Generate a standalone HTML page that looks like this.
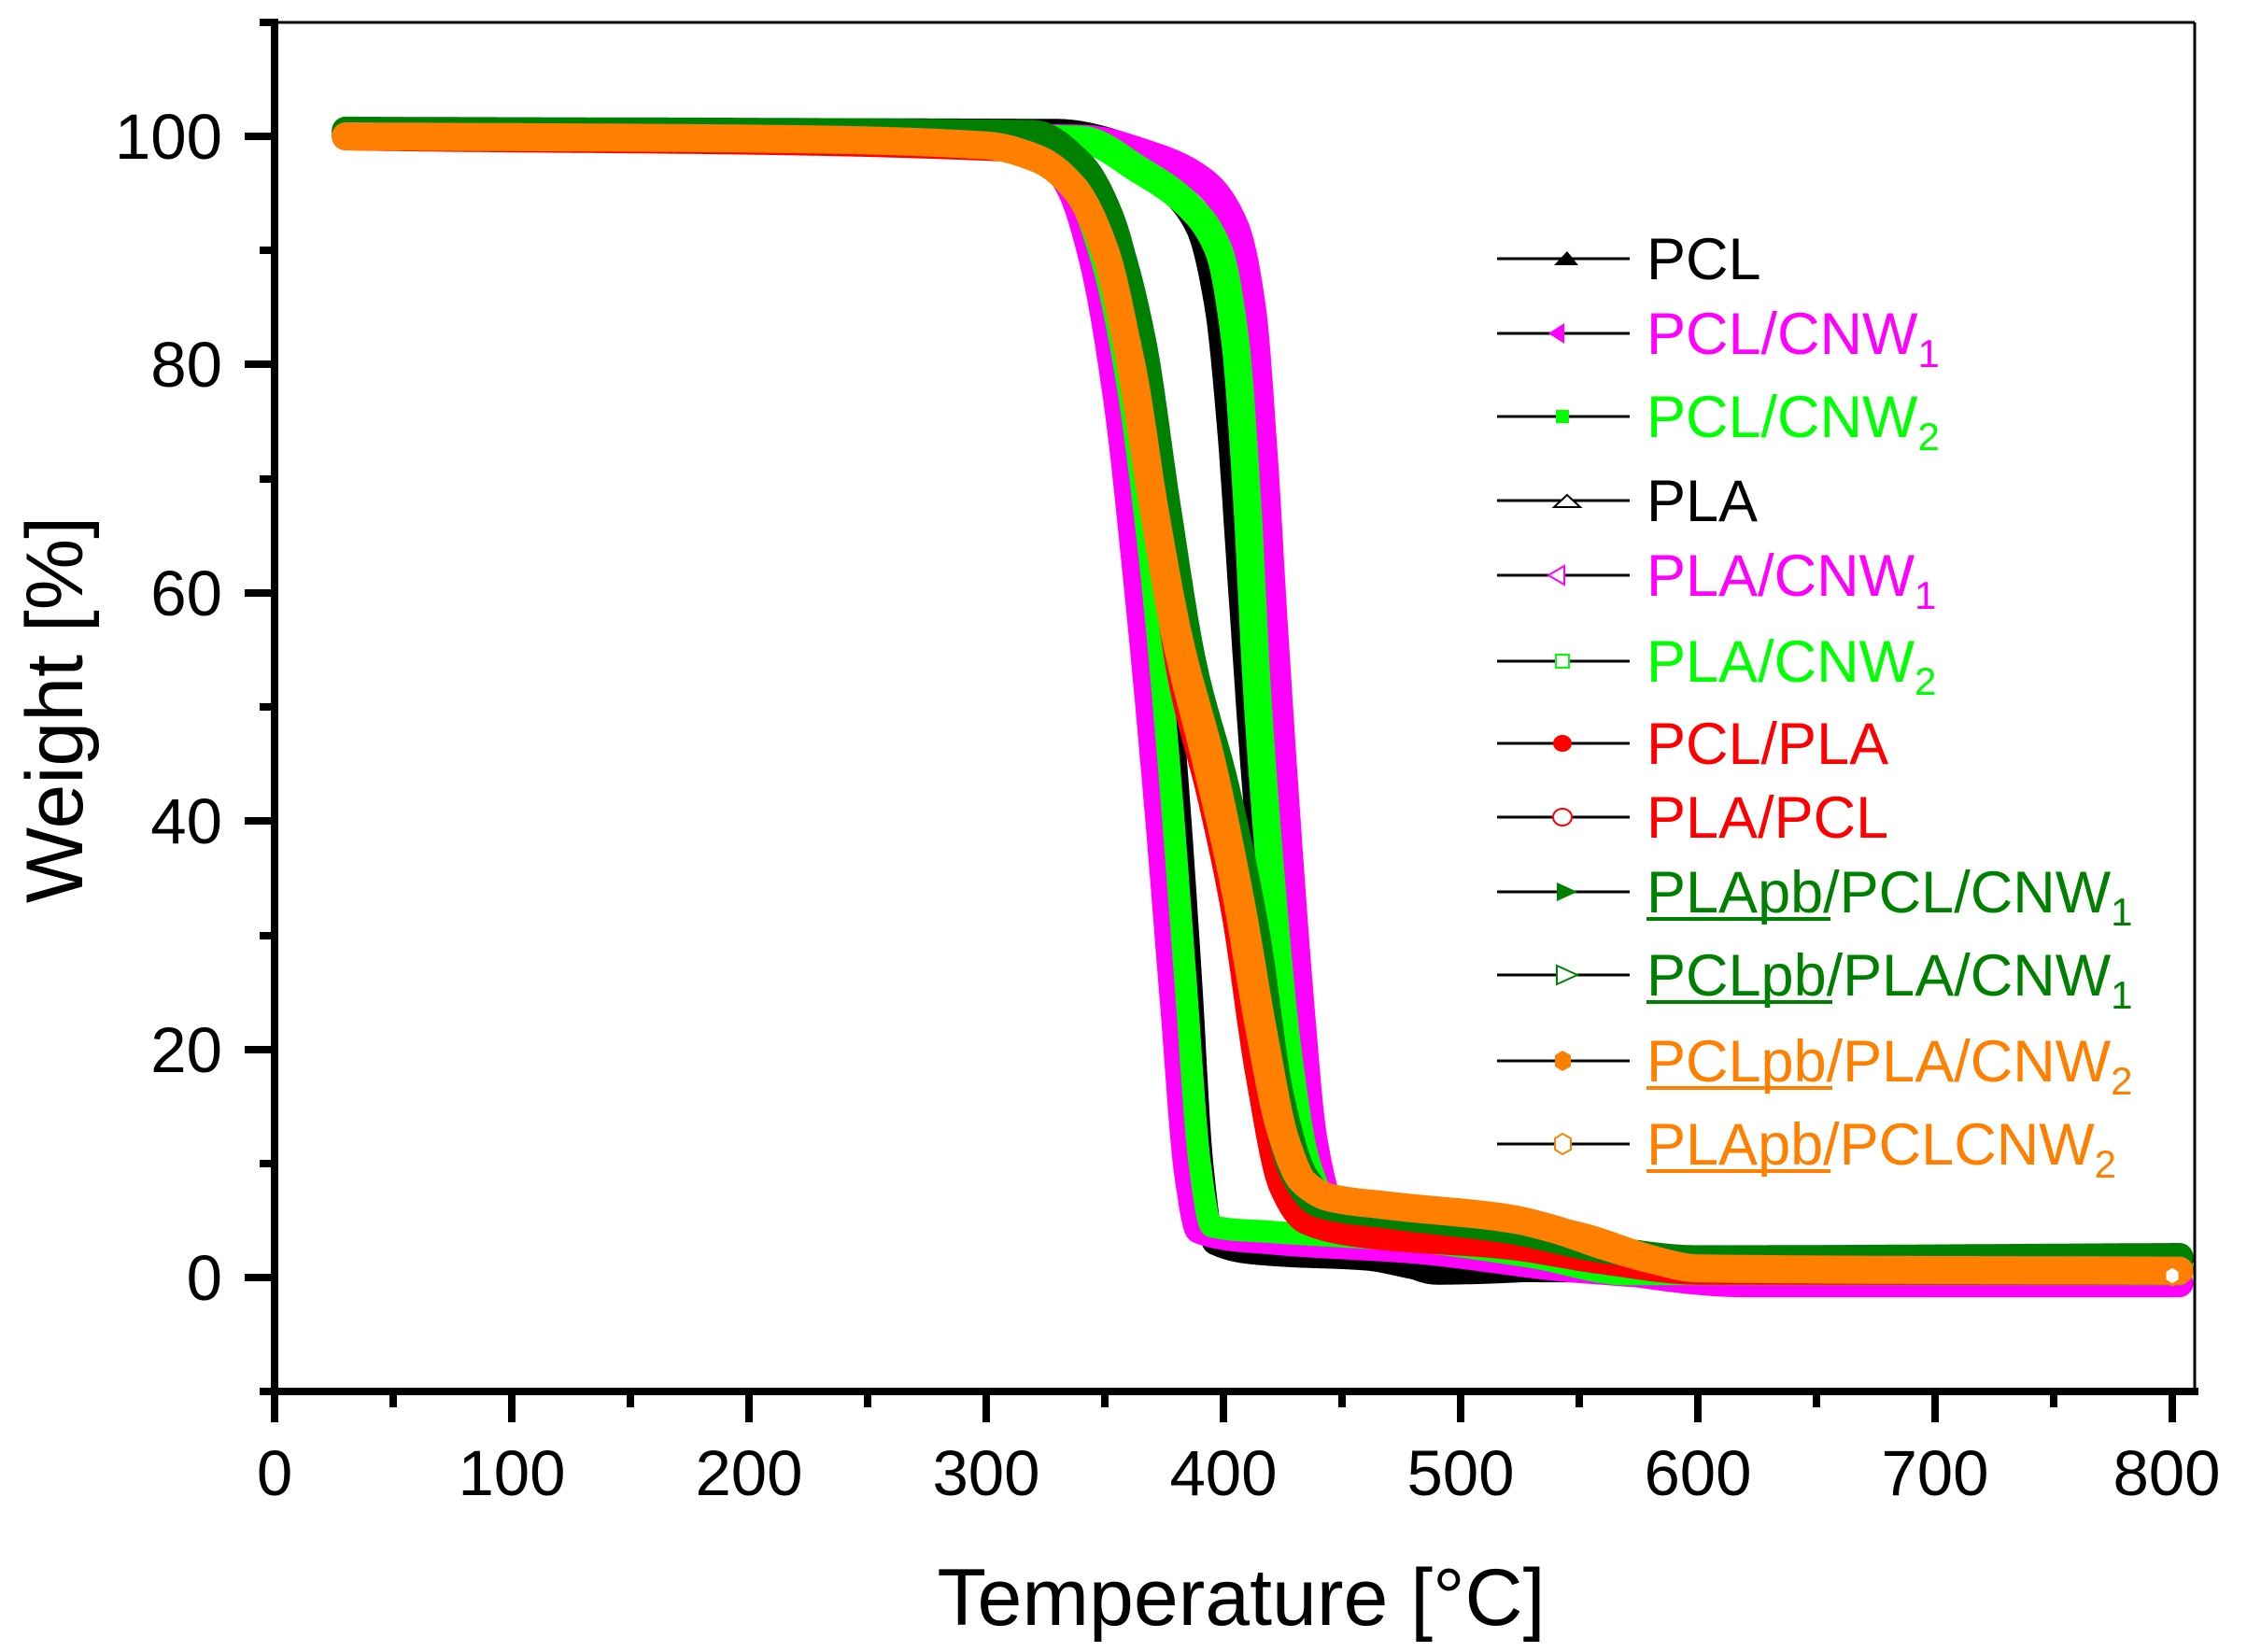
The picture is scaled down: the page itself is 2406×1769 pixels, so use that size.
<!DOCTYPE html>
<html><head><meta charset="utf-8"><style>
html,body{margin:0;padding:0;background:#fff;}
svg{display:block;}
text{font-family:"Liberation Sans",sans-serif;}
</style></head><body>
<svg id="s" width="2406" height="1769" viewBox="0 0 2406 1769" xmlns="http://www.w3.org/2000/svg">
<rect width="2406" height="1769" fill="#fff"/>
<g id="curves" fill="none" stroke-linejoin="round" stroke-linecap="round"></g>
<g stroke="#000">
<line x1="294" y1="24" x2="2350" y2="24" stroke-width="3"/>
<line x1="2350" y1="24" x2="2350" y2="1490" stroke-width="3"/>
<line x1="294" y1="20" x2="294" y2="1494" stroke-width="8"/>
<line x1="278" y1="1490" x2="2354" y2="1490" stroke-width="8"/>
<path stroke-width="8" d="M294 1490V1523M548 1490V1523M802 1490V1523M1056 1490V1523M1310 1490V1523M1564 1490V1523M1818 1490V1523M2072 1490V1523M2326 1490V1523"/>
<path stroke-width="8" d="M421 1490V1507M675 1490V1507M929 1490V1507M1183 1490V1507M1437 1490V1507M1691 1490V1507M1945 1490V1507M2199 1490V1507"/>
<path stroke-width="8" d="M262 1368H294M262 1124H294M262 879H294M262 635H294M262 390H294M262 146H294"/>
<path stroke-width="8" d="M278 1490H294M278 1246H294M278 1002H294M278 757H294M278 513H294M278 268H294M278 24H294"/>
</g>
<g font-size="69" fill="#000" text-anchor="end">
<text x="238" y="1392">0</text>
<text x="238" y="1148">20</text>
<text x="238" y="903">40</text>
<text x="238" y="659">60</text>
<text x="238" y="414">80</text>
<text x="238" y="170">100</text>
</g>
<g font-size="69" fill="#000" text-anchor="middle">
<text x="294" y="1601">0</text>
<text x="548" y="1601">100</text>
<text x="802" y="1601">200</text>
<text x="1056" y="1601">300</text>
<text x="1310" y="1601">400</text>
<text x="1564" y="1601">500</text>
<text x="1818" y="1601">600</text>
<text x="2072" y="1601">700</text>
<text x="2320" y="1601">800</text>
</g>
<text x="1329" y="1740" font-size="86" text-anchor="middle">Temperature [°C]</text>
<text transform="translate(88 760) rotate(-90)" font-size="86" text-anchor="middle">Weight [%]</text>
<g stroke="#000" stroke-width="3">
<line x1="1603" y1="277" x2="1745" y2="277"/>
<line x1="1603" y1="357" x2="1745" y2="357"/>
<line x1="1603" y1="446" x2="1745" y2="446"/>
<line x1="1603" y1="536" x2="1745" y2="536"/>
<line x1="1603" y1="616" x2="1745" y2="616"/>
<line x1="1603" y1="708" x2="1745" y2="708"/>
<line x1="1603" y1="796" x2="1745" y2="796"/>
<line x1="1603" y1="875" x2="1745" y2="875"/>
<line x1="1603" y1="955" x2="1745" y2="955"/>
<line x1="1603" y1="1044" x2="1745" y2="1044"/>
<line x1="1603" y1="1136" x2="1745" y2="1136"/>
<line x1="1603" y1="1225" x2="1745" y2="1225"/>
</g>
<polygon points="1664,284 1678,269 1690,284" fill="#000"/>
<polygon points="1658,357 1675,346 1675,368" fill="#ff00ff"/>
<rect x="1666" y="439" width="14" height="14" fill="#00ff00"/>
<polygon points="1664,543 1678,530 1692,543" fill="#fff" stroke="#000" stroke-width="2"/>
<polygon points="1658,616 1675,606 1675,626" fill="#fff" stroke="#ff00ff" stroke-width="2"/>
<rect x="1666" y="701" width="14" height="14" fill="#fff" stroke="#00ff00" stroke-width="2"/>
<ellipse cx="1673" cy="796" rx="10" ry="9" fill="#ff0000"/>
<ellipse cx="1673" cy="875" rx="10" ry="9" fill="#fff" stroke="#ff0000" stroke-width="2"/>
<polygon points="1667,945 1689,955 1667,965" fill="#008000"/>
<polygon points="1667,1034 1689,1044 1667,1054" fill="#fff" stroke="#008000" stroke-width="2"/>
<polygon points="1665,1130 1673,1125 1682,1130 1682,1142 1673,1147 1665,1142" fill="#ff8000"/>
<polygon points="1665,1219 1673,1214 1682,1219 1682,1231 1673,1236 1665,1231" fill="#fff" stroke="#ff8000" stroke-width="2"/>
<g font-size="63">
<text x="1763" y="299" fill="#000">PCL</text>
<text x="1763" y="379" fill="#ff00ff">PCL/CNW<tspan font-size="42" dy="14">1</tspan></text>
<text x="1763" y="468" fill="#00ff00">PCL/CNW<tspan font-size="42" dy="14">2</tspan></text>
<text x="1763" y="558" fill="#000">PLA</text>
<text x="1763" y="638" fill="#ff00ff">PLA/CNW<tspan font-size="42" dy="14">1</tspan></text>
<text x="1763" y="730" fill="#00ff00">PLA/CNW<tspan font-size="42" dy="14">2</tspan></text>
<text x="1763" y="818" fill="#ff0000">PCL/PLA</text>
<text x="1763" y="897" fill="#ff0000">PLA/PCL</text>
<text x="1763" y="977" fill="#008000">PLApb/PCL/CNW<tspan font-size="42" dy="14">1</tspan></text>
<text x="1763" y="1066" fill="#008000">PCLpb/PLA/CNW<tspan font-size="42" dy="14">1</tspan></text>
<text x="1763" y="1158" fill="#ff8000">PCLpb/PLA/CNW<tspan font-size="42" dy="14">2</tspan></text>
<text x="1763" y="1247" fill="#ff8000">PLApb/PCLCNW<tspan font-size="42" dy="14">2</tspan></text>
</g>
<g stroke-width="4">
<line x1="1763" y1="984" x2="1960" y2="984" stroke="#008000"/>
<line x1="1763" y1="1073" x2="1962" y2="1073" stroke="#008000"/>
<line x1="1763" y1="1165" x2="1962" y2="1165" stroke="#ff8000"/>
<line x1="1763" y1="1254" x2="1960" y2="1254" stroke="#ff8000"/>
</g>
<polygon points="2318,1361 2326,1356 2334,1361 2334,1371 2326,1376 2318,1371" fill="#fff" stroke="#ff8000" stroke-width="3"/>
</svg>
<script>
var S=[
["#000",30,[30,100.4,330,100.3,355,99.3,375,96,390,92,398,85,403,75,408,60,413,45,420,28,428,13,436,6,448,3.5,470,2,490,0.6,600,1.5,803,1.6]],
["#ff00ff",30,[30,100.2,340,99.8,370,98.3,392,96,405,92,412,85,417,72,421,58,426,42,432,25,438,12,445,6.5,460,5.2,520,3.5,570,0.5,620,-0.5,803,-0.5]],
["#00ff00",30,[30,100.3,340,99.7,365,97,385,94,398,90,405,82,410,68,414,52,420,35,427,20,435,10,443,6.5,460,5.5,520,3.5,560,1.5,600,0.8,803,0.8]],
["#000",24,[30,100,320,99,338,96,352,89,362,79,372,63,380,45,386,27,391,10,396,3,420,2,460,1.6,490,0.6,803,0.5]],
["#ff00ff",24,[30,100,320,99,334,95.5,344,89,354,77,363,60,371,42,378,24,384,9,389,4,420,3,480,2.2,550,0.5,620,-0.3,803,-0.3]],
["#00ff00",24,[30,100,320,99,337,95.5,349,89,359,79,369,63,377,45,384,26,390,10,395,4.5,420,4,480,3.2,530,1.8,570,0.3,803,0.3]],
["#ff0000",30,[30,100,310,99,335,96.5,350,91,362,82,372,68,382,53,395,42,405,32,415,18,425,8,435,5,460,3.8,520,2.8,560,1.5,600,0.6,803,0.6]],
["#ff0000",24,[30,100,310,99,335,96.5,350,91,362,82,372,68,382,54,396,43,407,32,417,18,427,9,437,6,460,5,520,4,560,2,600,0.8,803,0.8]],
["#008000",30,[30,100.5,320,100.2,340,97.5,352,93,363,84,373,70,383,56,397,44,410,31,420,17,430,9,440,6.5,470,5.5,520,4.2,560,2.5,600,1.6,803,1.8]],
["#008000",24,[30,100.3,320,99.8,342,97,356,91,367,82,377,68,388,54,402,43,415,30,425,16,435,9,445,6.8,470,5.6,520,4.4,560,2.6,600,1.6,803,1.7]],
["#ff8000",30,[30,100,200,99.8,300,99.2,322,98,337,95.5,350,90,360,81,370,68,380,56,393,45,405,34,415,22,424,13,433,8.5,445,7,470,6.3,520,5.2,540,4.2,560,2.8,580,1.6,600,0.8,803,0.6]],
["#ff8000",26,[30,100,200,99.8,300,99.2,322,98,338,95,351,89,362,80,372,67,382,56,396,45,408,33,418,21,427,12,436,8,450,6.8,520,5,550,3.8,580,1.8,600,0.8,803,0.6]]
];
function X(t){return 294+t*2.54;}function Y(w){return 1368-w*12.22;}
function mono(xs,ys){var n=xs.length,d=[],m=[];
for(var i=0;i<n-1;i++)d.push((ys[i+1]-ys[i])/(xs[i+1]-xs[i]));
m[0]=d[0];m[n-1]=d[n-2];
for(var i=1;i<n-1;i++){if(d[i-1]*d[i]<=0)m[i]=0;else{var w1=2*(xs[i+1]-xs[i])+(xs[i]-xs[i-1]),w2=(xs[i+1]-xs[i])+2*(xs[i]-xs[i-1]);m[i]=(w1+w2)/(w1/d[i-1]+w2/d[i]);}}
return m;}
var g=document.getElementById('curves'),ns="http://www.w3.org/2000/svg";
S.forEach(function(s){var a=s[2],xs=[],ys=[];for(var i=0;i<a.length;i+=2){xs.push(a[i]);ys.push(a[i+1]);}
var m=mono(xs,ys),pts=[];
for(var i=0;i<xs.length-1;i++){var h=xs[i+1]-xs[i],N=Math.max(2,Math.ceil(h/0.5));
for(var k=0;k<N;k++){var t=k/N,t2=t*t,t3=t2*t;
var y=(2*t3-3*t2+1)*ys[i]+(t3-2*t2+t)*h*m[i]+(-2*t3+3*t2)*ys[i+1]+(t3-t2)*h*m[i+1];
pts.push(X(xs[i]+t*h).toFixed(1)+","+Y(y).toFixed(1));}}
pts.push(X(xs[xs.length-1])+","+Y(ys[ys.length-1]));
var p=document.createElementNS(ns,"polyline");p.setAttribute("points",pts.join(" "));p.setAttribute("stroke",s[0]);p.setAttribute("stroke-width",s[1]);g.appendChild(p);});
</script>
</body></html>
